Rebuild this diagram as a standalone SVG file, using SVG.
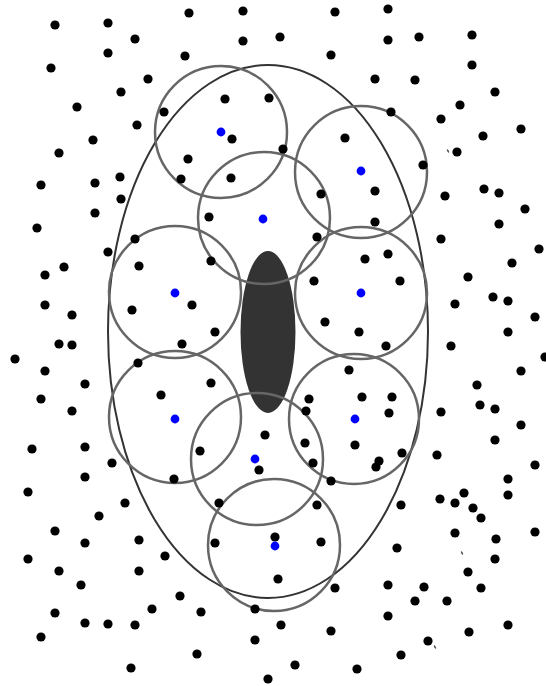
<svg xmlns="http://www.w3.org/2000/svg" width="546" height="686" viewBox="0 0 546 686">
<style>
.p{fill:#000}
.b{fill:#0000ff}
.c{fill:none;stroke:#666;stroke-width:2.5}
.e{fill:none;stroke:#333;stroke-width:2}
.s{fill:#555}
</style>
<rect width="546" height="686" fill="#fff"/>
<ellipse class="e" cx="268" cy="331.5" rx="160" ry="266.5"/>
<ellipse cx="268" cy="332" rx="27.5" ry="81" fill="#333"/>
<g id="circles">
<circle class="c" cx="221" cy="132" r="66"/>
<circle class="c" cx="361" cy="172" r="66"/>
<circle class="c" cx="264" cy="218" r="66"/>
<circle class="c" cx="175" cy="292" r="66"/>
<circle class="c" cx="361" cy="293" r="66"/>
<circle class="c" cx="175" cy="417" r="66"/>
<circle class="c" cx="354" cy="419" r="65"/>
<circle class="c" cx="257" cy="459" r="66"/>
<circle class="c" cx="274" cy="545" r="66"/>
</g>
<g id="points">
<circle class="p" cx="55" cy="25" r="4.6"/><circle class="p" cx="108" cy="23" r="4.6"/><circle class="p" cx="189" cy="13" r="4.6"/><circle class="p" cx="243" cy="11" r="4.6"/><circle class="p" cx="335" cy="12" r="4.6"/><circle class="p" cx="388" cy="9" r="4.6"/>
<circle class="p" cx="135" cy="39" r="4.6"/><circle class="p" cx="243" cy="41" r="4.6"/><circle class="p" cx="280" cy="37" r="4.6"/><circle class="p" cx="388" cy="40" r="4.6"/><circle class="p" cx="419" cy="37" r="4.6"/><circle class="p" cx="472" cy="35" r="4.6"/>
<circle class="p" cx="51" cy="68" r="4.6"/><circle class="p" cx="108" cy="53" r="4.6"/><circle class="p" cx="185" cy="56" r="4.6"/><circle class="p" cx="331" cy="55" r="4.6"/><circle class="p" cx="472" cy="65" r="4.6"/>
<circle class="p" cx="148" cy="79" r="4.6"/><circle class="p" cx="121" cy="92" r="4.6"/><circle class="p" cx="375" cy="79" r="4.6"/><circle class="p" cx="415" cy="80" r="4.6"/><circle class="p" cx="495" cy="92" r="4.6"/>
<circle class="p" cx="77" cy="107" r="4.6"/><circle class="p" cx="164" cy="112" r="4.6"/><circle class="p" cx="225" cy="99" r="4.6"/><circle class="p" cx="269" cy="98" r="4.6"/><circle class="p" cx="391" cy="112" r="4.6"/><circle class="p" cx="460" cy="105" r="4.6"/>
<circle class="p" cx="137" cy="125" r="4.6"/><circle class="p" cx="441" cy="119" r="4.6"/><circle class="p" cx="483" cy="136" r="4.6"/><circle class="p" cx="521" cy="129" r="4.6"/>
<circle class="p" cx="93" cy="140" r="4.6"/><circle class="p" cx="232" cy="139" r="4.6"/><circle class="p" cx="345" cy="138" r="4.6"/><circle class="p" cx="457" cy="152" r="4.6"/>
<circle class="p" cx="59" cy="153" r="4.6"/><circle class="p" cx="188" cy="159" r="4.6"/><circle class="p" cx="283" cy="149" r="4.6"/><circle class="p" cx="423" cy="165" r="4.6"/>
<circle class="p" cx="41" cy="185" r="4.6"/><circle class="p" cx="95" cy="183" r="4.6"/><circle class="p" cx="120" cy="177" r="4.6"/><circle class="p" cx="181" cy="179" r="4.6"/><circle class="p" cx="231" cy="178" r="4.6"/><circle class="p" cx="375" cy="191" r="4.6"/><circle class="p" cx="484" cy="189" r="4.6"/><circle class="p" cx="499" cy="193" r="4.6"/>
<circle class="p" cx="121" cy="199" r="4.6"/><circle class="p" cx="321" cy="194" r="4.6"/><circle class="p" cx="445" cy="196" r="4.6"/><circle class="p" cx="525" cy="209" r="4.6"/>
<circle class="p" cx="37" cy="228" r="4.6"/><circle class="p" cx="95" cy="213" r="4.6"/><circle class="p" cx="209" cy="217" r="4.6"/><circle class="p" cx="375" cy="222" r="4.6"/><circle class="p" cx="499" cy="224" r="4.6"/>
<circle class="p" cx="135" cy="239" r="4.6"/><circle class="p" cx="108" cy="252" r="4.6"/><circle class="p" cx="64" cy="267" r="4.6"/><circle class="p" cx="139" cy="266" r="4.6"/><circle class="p" cx="45" cy="275" r="4.6"/><circle class="p" cx="45" cy="305" r="4.6"/><circle class="p" cx="72" cy="315" r="4.6"/><circle class="p" cx="132" cy="310" r="4.6"/>
<circle class="p" cx="59" cy="344" r="4.6"/><circle class="p" cx="72" cy="345" r="4.6"/><circle class="p" cx="182" cy="344" r="4.6"/>
<circle class="p" cx="317" cy="237" r="4.6"/><circle class="p" cx="211" cy="261" r="4.6"/><circle class="p" cx="314" cy="281" r="4.6"/><circle class="p" cx="192" cy="305" r="4.6"/><circle class="p" cx="215" cy="332" r="4.6"/><circle class="p" cx="325" cy="322" r="4.6"/><circle class="p" cx="359" cy="332" r="4.6"/><circle class="p" cx="365" cy="259" r="4.6"/>
<circle class="p" cx="441" cy="239" r="4.6"/><circle class="p" cx="539" cy="249" r="4.6"/><circle class="p" cx="388" cy="254" r="4.6"/><circle class="p" cx="512" cy="263" r="4.6"/><circle class="p" cx="400" cy="281" r="4.6"/><circle class="p" cx="468" cy="277" r="4.6"/><circle class="p" cx="493" cy="297" r="4.6"/><circle class="p" cx="508" cy="301" r="4.6"/><circle class="p" cx="455" cy="304" r="4.6"/><circle class="p" cx="535" cy="317" r="4.6"/><circle class="p" cx="508" cy="332" r="4.6"/><circle class="p" cx="386" cy="346" r="4.6"/><circle class="p" cx="451" cy="346" r="4.6"/>
<circle class="p" cx="15" cy="359" r="4.6"/><circle class="p" cx="45" cy="371" r="4.6"/><circle class="p" cx="85" cy="384" r="4.6"/><circle class="p" cx="138" cy="363" r="4.6"/><circle class="p" cx="41" cy="399" r="4.6"/><circle class="p" cx="72" cy="411" r="4.6"/><circle class="p" cx="161" cy="395" r="4.6"/>
<circle class="p" cx="32" cy="449" r="4.6"/><circle class="p" cx="85" cy="447" r="4.6"/><circle class="p" cx="112" cy="463" r="4.6"/><circle class="p" cx="85" cy="477" r="4.6"/><circle class="p" cx="174" cy="479" r="4.6"/><circle class="p" cx="28" cy="492" r="4.6"/><circle class="p" cx="125" cy="503" r="4.6"/><circle class="p" cx="99" cy="516" r="4.6"/>
<circle class="p" cx="349" cy="370" r="4.6"/><circle class="p" cx="211" cy="383" r="4.6"/><circle class="p" cx="362" cy="397" r="4.6"/><circle class="p" cx="309" cy="399" r="4.6"/><circle class="p" cx="306" cy="411" r="4.6"/><circle class="p" cx="265" cy="435" r="4.6"/><circle class="p" cx="200" cy="451" r="4.6"/><circle class="p" cx="305" cy="443" r="4.6"/><circle class="p" cx="355" cy="445" r="4.6"/><circle class="p" cx="259" cy="470" r="4.6"/><circle class="p" cx="313" cy="463" r="4.6"/><circle class="p" cx="331" cy="481" r="4.6"/><circle class="p" cx="219" cy="503" r="4.6"/><circle class="p" cx="317" cy="505" r="4.6"/>
<circle class="p" cx="545" cy="357" r="4.6"/><circle class="p" cx="521" cy="371" r="4.6"/><circle class="p" cx="477" cy="385" r="4.6"/><circle class="p" cx="392" cy="397" r="4.6"/><circle class="p" cx="389" cy="413" r="4.6"/><circle class="p" cx="480" cy="405" r="4.6"/><circle class="p" cx="495" cy="409" r="4.6"/><circle class="p" cx="441" cy="412" r="4.6"/><circle class="p" cx="521" cy="425" r="4.6"/><circle class="p" cx="495" cy="440" r="4.6"/><circle class="p" cx="402" cy="453" r="4.6"/><circle class="p" cx="437" cy="455" r="4.6"/><circle class="p" cx="379" cy="461" r="4.6"/><circle class="p" cx="376" cy="467" r="4.6"/><circle class="p" cx="535" cy="465" r="4.6"/><circle class="p" cx="508" cy="479" r="4.6"/><circle class="p" cx="508" cy="495" r="4.6"/><circle class="p" cx="440" cy="499" r="4.6"/><circle class="p" cx="464" cy="493" r="4.6"/><circle class="p" cx="455" cy="503" r="4.6"/><circle class="p" cx="473" cy="508" r="4.6"/><circle class="p" cx="401" cy="505" r="4.6"/>
<circle class="p" cx="55" cy="531" r="4.6"/><circle class="p" cx="85" cy="543" r="4.6"/><circle class="p" cx="139" cy="540" r="4.6"/><circle class="p" cx="165" cy="556" r="4.6"/><circle class="p" cx="28" cy="559" r="4.6"/><circle class="p" cx="59" cy="571" r="4.6"/><circle class="p" cx="139" cy="571" r="4.6"/><circle class="p" cx="81" cy="585" r="4.6"/><circle class="p" cx="180" cy="596" r="4.6"/><circle class="p" cx="152" cy="609" r="4.6"/><circle class="p" cx="55" cy="613" r="4.6"/><circle class="p" cx="85" cy="623" r="4.6"/><circle class="p" cx="108" cy="624" r="4.6"/><circle class="p" cx="135" cy="625" r="4.6"/><circle class="p" cx="41" cy="637" r="4.6"/><circle class="p" cx="131" cy="668" r="4.6"/>
<circle class="p" cx="215" cy="543" r="4.6"/><circle class="p" cx="275" cy="537" r="4.6"/><circle class="p" cx="321" cy="542" r="4.6"/><circle class="p" cx="278" cy="579" r="4.6"/><circle class="p" cx="335" cy="588" r="4.6"/><circle class="p" cx="201" cy="612" r="4.6"/><circle class="p" cx="255" cy="609" r="4.6"/><circle class="p" cx="281" cy="625" r="4.6"/><circle class="p" cx="331" cy="631" r="4.6"/><circle class="p" cx="255" cy="640" r="4.6"/><circle class="p" cx="197" cy="654" r="4.6"/><circle class="p" cx="295" cy="665" r="4.6"/><circle class="p" cx="268" cy="679" r="4.6"/><circle class="p" cx="357" cy="669" r="4.6"/>
<circle class="p" cx="481" cy="518" r="4.6"/><circle class="p" cx="455" cy="533" r="4.6"/><circle class="p" cx="535" cy="532" r="4.6"/><circle class="p" cx="496" cy="539" r="4.6"/><circle class="p" cx="397" cy="548" r="4.6"/><circle class="p" cx="495" cy="559" r="4.6"/><circle class="p" cx="468" cy="572" r="4.6"/><circle class="p" cx="388" cy="585" r="4.6"/><circle class="p" cx="424" cy="587" r="4.6"/><circle class="p" cx="481" cy="588" r="4.6"/><circle class="p" cx="415" cy="601" r="4.6"/><circle class="p" cx="447" cy="601" r="4.6"/><circle class="p" cx="388" cy="616" r="4.6"/><circle class="p" cx="508" cy="625" r="4.6"/><circle class="p" cx="469" cy="632" r="4.6"/><circle class="p" cx="428" cy="641" r="4.6"/><circle class="p" cx="401" cy="655" r="4.6"/>
</g>
<g id="marks">
<ellipse class="s" cx="448" cy="151" rx="0.8" ry="2" transform="rotate(-30 448 151)"/>
<ellipse class="s" cx="462" cy="553" rx="0.8" ry="2" transform="rotate(-30 462 553)"/>
<ellipse class="s" cx="435" cy="647" rx="0.8" ry="2" transform="rotate(-30 435 647)"/>
</g>
<g id="centers">
<circle class="b" cx="221" cy="132" r="4.4"/><circle class="b" cx="361" cy="171" r="4.4"/><circle class="b" cx="263" cy="219" r="4.4"/><circle class="b" cx="175" cy="293" r="4.4"/><circle class="b" cx="361" cy="293" r="4.4"/><circle class="b" cx="175" cy="419" r="4.4"/><circle class="b" cx="355" cy="419" r="4.4"/><circle class="b" cx="255" cy="459" r="4.4"/><circle class="b" cx="275" cy="546" r="4.4"/>
</g>
</svg>
